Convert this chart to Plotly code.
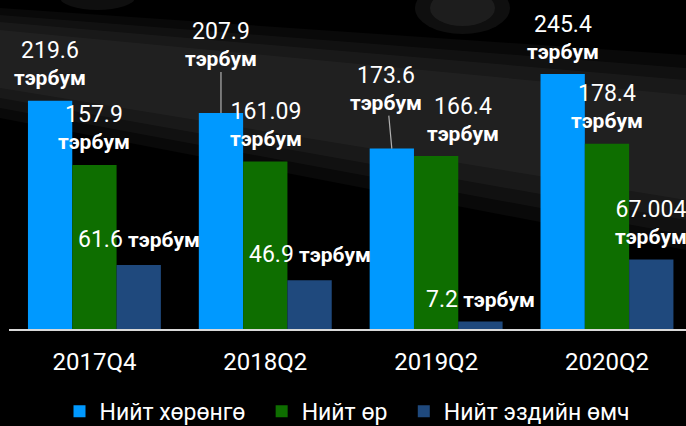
import plotly.graph_objects as go

# ---- data ----
categories = ["2017Q4", "2018Q2", "2019Q2", "2020Q2"]
assets = [219.6, 207.9, 173.6, 245.4]          # Нийт хөрөнгө
liabilities = [157.9, 161.09, 166.4, 178.4]    # Нийт өр
equity = [61.6, 46.9, 7.2, 67.004]             # Нийт эздийн өмч
series_names = ["Нийт хөрөнгө", "Нийт өр", "Нийт эздийн өмч"]
unit = "тэрбум"

# ---- style ----
colors = ["#0099FF", "#0E6E00", "#1F497D"]
FONT = "Roboto"
BASE_SIZE = 21
NUM_SIZE = 23
UNIT_SIZE = 21
BARGAP = 0.222
W, H = 686, 426
ML, MR, MT, MB = 9, 0, 10, 97
YMAX = 307.0
LEGEND_PAD = "\u00a0\u00a0"

# label placement (pixel offsets of label centre from bar top), per series per category
label_dx = [[0, 0, -5.5, 0], [0, 0.5, 27, 0], [0, 0, 0, 0]]
label_dy = [[-37, -68, -60, -37], [-37, -37.5, -37, -37], [-25, -26, -22.5, -37]]
two_line = [[True] * 4, [True] * 4, [False, False, False, True]]
leader = [[False, True, True, False], [False] * 4, [False] * 4]

fig = go.Figure()
all_series = [assets, liabilities, equity]
for k, (name, vals, col) in enumerate(zip(series_names, all_series, colors)):
    shown = name + (LEGEND_PAD if k < len(series_names) - 1 else "")
    fig.add_trace(go.Bar(x=categories, y=vals, name=shown, marker=dict(color=col, line=dict(width=0)),
                         hoverinfo="skip"))

# background texture (decorative photo-like band)
pw = W - ML - MR
ph = H - MT - MB
def px(x):
    return (x - ML) / pw
def py(y):
    return (H - MB - y) / ph

def poly(pts, fill):
    path = "M " + " L ".join(f"{px(x)},{py(y)}" for x, y in pts) + " Z"
    fig.add_shape(type="path", path=path, xref="paper", yref="paper", fillcolor=fill,
                  line=dict(width=0), layer="below")

poly([(0, 8), (686, 55), (686, 250), (0, 118)], "rgba(255,255,255,0.035)")
poly([(0, 15), (686, 68), (686, 235), (0, 108)], "rgba(255,255,255,0.035)")
poly([(0, 22), (686, 80), (686, 220), (0, 98)], "rgba(255,255,255,0.035)")
poly([(0, 30), (686, 95), (686, 200), (0, 88)], "rgba(255,255,255,0.03)")
for (x0, y0, x1, y1, a) in [(415, -18, 510, 34, 0.06), (430, -10, 495, 26, 0.06),
                             (60, -15, 135, 10, 0.06)]:
    fig.add_shape(type="circle", xref="paper", yref="paper", x0=px(x0), x1=px(x1), y0=py(y1), y1=py(y0),
                  fillcolor=f"rgba(255,255,255,{a})", line=dict(width=0), layer="below")

# data labels
bw = (1 - BARGAP) / 3
for s, vals in enumerate(all_series):
    for i, v in enumerate(vals):
        num = f"<span style='font-size:{NUM_SIZE}px'>{v:g}</span>"
        un = f"<b><span style='font-size:{UNIT_SIZE}px'>{unit}</span></b>"
        txt = f"{num}<br>{un}" if two_line[s][i] else f"{num} {un}"
        fig.add_annotation(
            x=i + (s - 1) * bw, y=v, xref="x", yref="y",
            text=txt, showarrow=True, arrowhead=0, arrowwidth=1.2,
            arrowcolor="#B0B0B0" if leader[s][i] else "rgba(0,0,0,0)",
            ax=label_dx[s][i], ay=label_dy[s][i],
            font=dict(family=FONT, size=BASE_SIZE, color="white"),
            borderpad=0,
        )

fig.update_layout(
    width=W, height=H,
    margin=dict(l=ML, r=MR, t=MT, b=MB, pad=0, autoexpand=False),
    paper_bgcolor="#000000", plot_bgcolor="rgba(0,0,0,0)",
    barmode="group", bargap=BARGAP, bargroupgap=0,
    font=dict(family=FONT, color="white"),
    showlegend=True,
    legend=dict(orientation="h", x=0.5, xanchor="center", y=-0.258, yanchor="middle",
                font=dict(family=FONT, size=23, color="white"), bgcolor="rgba(0,0,0,0)",
                itemwidth=30, traceorder="normal"),
    xaxis=dict(type="category", range=[-0.5, 3.4625], showgrid=False, zeroline=False,
               showline=True, linecolor="#D9D9D9", linewidth=2, ticks="",
               ticklabelstandoff=10,
               tickfont=dict(family=FONT, size=24, color="white")),
    yaxis=dict(range=[0, YMAX], visible=False, showgrid=False, zeroline=False),
)

fig.write_html("out.html", config={"displayModeBar": False},
               post_script="document.body.style.margin='0px';document.body.style.background='#000';")
